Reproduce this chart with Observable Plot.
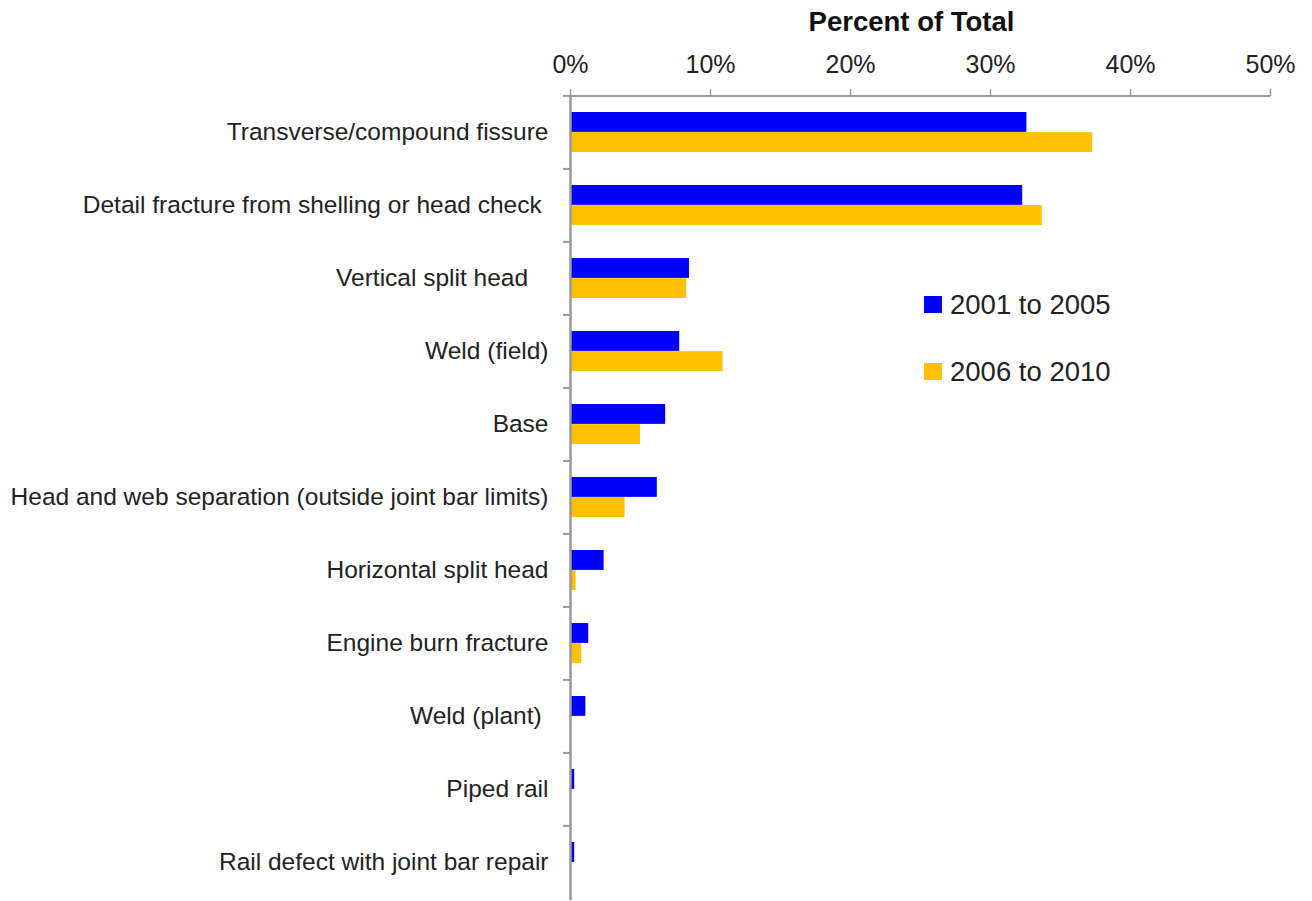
<!DOCTYPE html>
<html>
<head>
<meta charset="utf-8">
<script src="https://cdn.jsdelivr.net/npm/d3@7"></script>
<script src="https://cdn.jsdelivr.net/npm/@observablehq/plot@0.6"></script>
<style>
  body { margin: 0; background: #fff; font-family: "Liberation Sans", Arial, sans-serif; }
  #wrap { position: relative; width: 1312px; height: 901px; }
  .legend { position: absolute; left: 924px; font-size: 27.5px; line-height: 1; color: #222; display: flex; align-items: center; }
  .legend .sw { width: 18px; height: 17px; margin-right: 8px; }
</style>
</head>
<body>
<div id="wrap"></div>
<script>
const categories = [
  "Transverse/compound fissure",
  "Detail fracture from shelling or head check\u00a0",
  "Vertical split head\u00a0\u00a0\u00a0",
  "Weld (field)",
  "Base",
  "Head and web separation (outside joint bar limits)",
  "Horizontal split head",
  "Engine burn fracture",
  "Weld (plant)\u00a0",
  "Piped rail",
  "Rail defect with joint bar repair"
];
const series = ["2001 to 2005", "2006 to 2010"];
const values2001 = [32.6, 32.3, 8.5, 7.8, 6.8, 6.2, 2.4, 1.3, 1.1, 0.3, 0.3];
const values2006 = [37.3, 33.7, 8.3, 10.9, 5.0, 3.9, 0.4, 0.8, 0, 0, 0];
const colors = ["#0000FF", "#FFC000"];
const xTicks = [0, 10, 20, 30, 40, 50];

const data = categories.map((c, i) => ({category: c, v1: values2001[i], v2: values2006[i]}));

const W = 1312, H = 901, mT = 95, mB = 1;
const step = (H - mT - mB) / categories.length;
const bw = step * 0.55;

const chart = Plot.plot({
  width: W, height: H,
  marginLeft: 570, marginRight: 42, marginTop: mT, marginBottom: mB,
  style: {fontFamily: "Liberation Sans, Arial, sans-serif", color: "#222", background: "#fff"},
  x: {domain: [0, 50]},
  y: {domain: categories, paddingInner: 0.45, paddingOuter: 0.225},
  marks: [
    Plot.barX(data, {y: "category", x: "v1", fill: colors[0], insetBottom: bw / 2}),
    Plot.barX(data, {y: "category", x: "v2", fill: colors[1], insetTop: bw / 2}),
    Plot.axisX({anchor: "top", ticks: xTicks, tickSize: 7, tickPadding: 16, tickFormat: d => d + "%",
      label: null, fontSize: 25, stroke: "#999", strokeWidth: 1.5}),
    Plot.axisY({tickSize: 0, tickPadding: 22, fontSize: 24.5, label: null}),
    Plot.axisY({tickSize: 7, tickFormat: () => "", dy: -step / 2, stroke: "#999", strokeWidth: 2, label: null}),
    Plot.ruleX([0], {stroke: "#999", strokeWidth: 2.5}),
    Plot.ruleY([categories[0]], {dy: -step / 2, stroke: "#999", strokeWidth: 2}),
    Plot.text(["Percent of Total"], {frameAnchor: "top", dy: -84, dx: -9, fontSize: 27.5, fontWeight: "bold", fill: "#111"})
  ]
});
const wrap = document.getElementById("wrap");
wrap.appendChild(chart);

const legendCenters = [305, 372];
series.forEach((s, i) => {
  const d = document.createElement("div");
  d.className = "legend";
  d.style.top = (legendCenters[i] - 14) + "px";
  d.innerHTML = `<div class="sw" style="background:${colors[i]}"></div><span>${s}</span>`;
  wrap.appendChild(d);
});
</script>
</body>
</html>
